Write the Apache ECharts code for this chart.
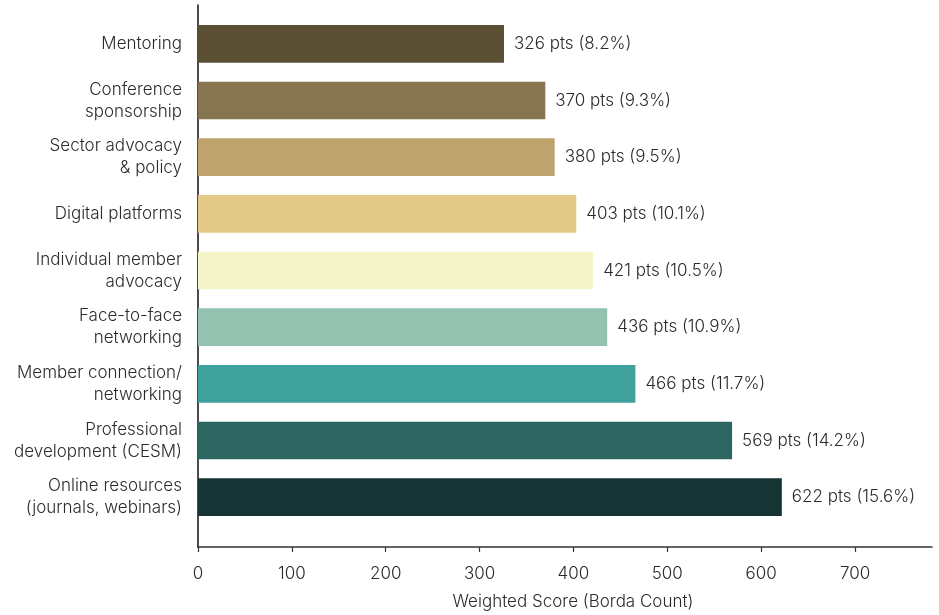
<!DOCTYPE html>
<html>
<head>
<meta charset="utf-8">
<script src="https://cdn.jsdelivr.net/npm/echarts@6/dist/echarts.min.js"></script>
<style>
  html, body { margin: 0; padding: 0; background: #fff; }
  #chart { width: 939px; height: 615px; }
</style>
</head>
<body>
<div id="chart"></div>
<script>
// Member benefit priorities, weighted by Borda count
const categories = [
  'Mentoring',
  'Conference\nsponsorship',
  'Sector advocacy\n& policy',
  'Digital platforms',
  'Individual member\nadvocacy',
  'Face-to-face\nnetworking',
  'Member connection/\nnetworking',
  'Professional\ndevelopment (CESM)',
  'Online resources\n(journals, webinars)'
];
const points = [326, 370, 380, 403, 421, 436, 466, 569, 622];
const shares = [8.2, 9.3, 9.5, 10.1, 10.5, 10.9, 11.7, 14.2, 15.6];
const barColors = ['#5a4f32', '#86754f', '#bea36d', '#e3c987', '#f3f4c8', '#94c2b0', '#3fa19c', '#2d6560', '#173434'];
const xTicks = [0, 100, 200, 300, 400, 500, 600, 700];

const FONT = 'Inter, "Noto Sans", sans-serif';
const TEXT = '#2b2b2b';
const FS = 17;
const FW = 300;
const X_MAX = 782;

const chart = echarts.init(document.getElementById('chart'), null, { renderer: 'canvas' });

chart.setOption({
  backgroundColor: '#ffffff',
  animation: false,
  textStyle: { fontFamily: FONT },
  grid: [
    // frame with the axis lines
    { left: 198, right: 7, top: 5, bottom: 61.5 },
    // category band holding the bars
    { left: 198, right: 7, top: 15.5, height: 510 }
  ],
  xAxis: [
    {
      gridIndex: 0,
      type: 'value',
      min: 0,
      max: X_MAX,
      interval: 100,
      name: 'Weighted Score (Borda Count)',
      nameLocation: 'middle',
      nameGap: 46,
      nameTextStyle: { fontSize: FS, fontWeight: FW, color: TEXT, fontFamily: FONT, padding: [0, 0, 0, 16] },
      axisLine: { show: true, lineStyle: { color: '#333', width: 1.5 } },
      axisTick: { show: true, length: 5, lineStyle: { color: '#333', width: 1.2 }, customValues: xTicks },
      axisLabel: { fontSize: FS, fontWeight: FW, color: TEXT, fontFamily: FONT, margin: 18, customValues: xTicks },
      splitLine: { show: false }
    },
    {
      gridIndex: 1,
      type: 'value',
      min: 0,
      max: X_MAX,
      show: false
    }
  ],
  yAxis: [
    {
      gridIndex: 0,
      type: 'value',
      min: 0,
      max: 1,
      axisLine: { show: true, onZero: false, lineStyle: { color: '#111', width: 1.5 } },
      axisTick: { show: false },
      axisLabel: { show: false },
      splitLine: { show: false }
    },
    {
      gridIndex: 1,
      type: 'category',
      inverse: true,
      data: categories,
      axisLine: { show: false },
      axisTick: { show: false },
      axisLabel: {
        fontSize: FS,
        fontWeight: FW,
        color: TEXT,
        fontFamily: FONT,
        margin: 16,
        lineHeight: 22,
        align: 'right'
      }
    }
  ],
  series: [
    {
      type: 'bar',
      xAxisIndex: 1,
      yAxisIndex: 1,
      barWidth: '66.5%',
      data: points.map((v, i) => ({ value: v, itemStyle: { color: barColors[i] } })),
      label: {
        show: true,
        position: 'right',
        distance: 10,
        fontSize: FS,
        fontWeight: FW,
        color: TEXT,
        fontFamily: FONT,
        formatter: p => `${points[p.dataIndex]} pts (${shares[p.dataIndex].toFixed(1)}%)`
      }
    }
  ]
});
</script>
</body>
</html>
